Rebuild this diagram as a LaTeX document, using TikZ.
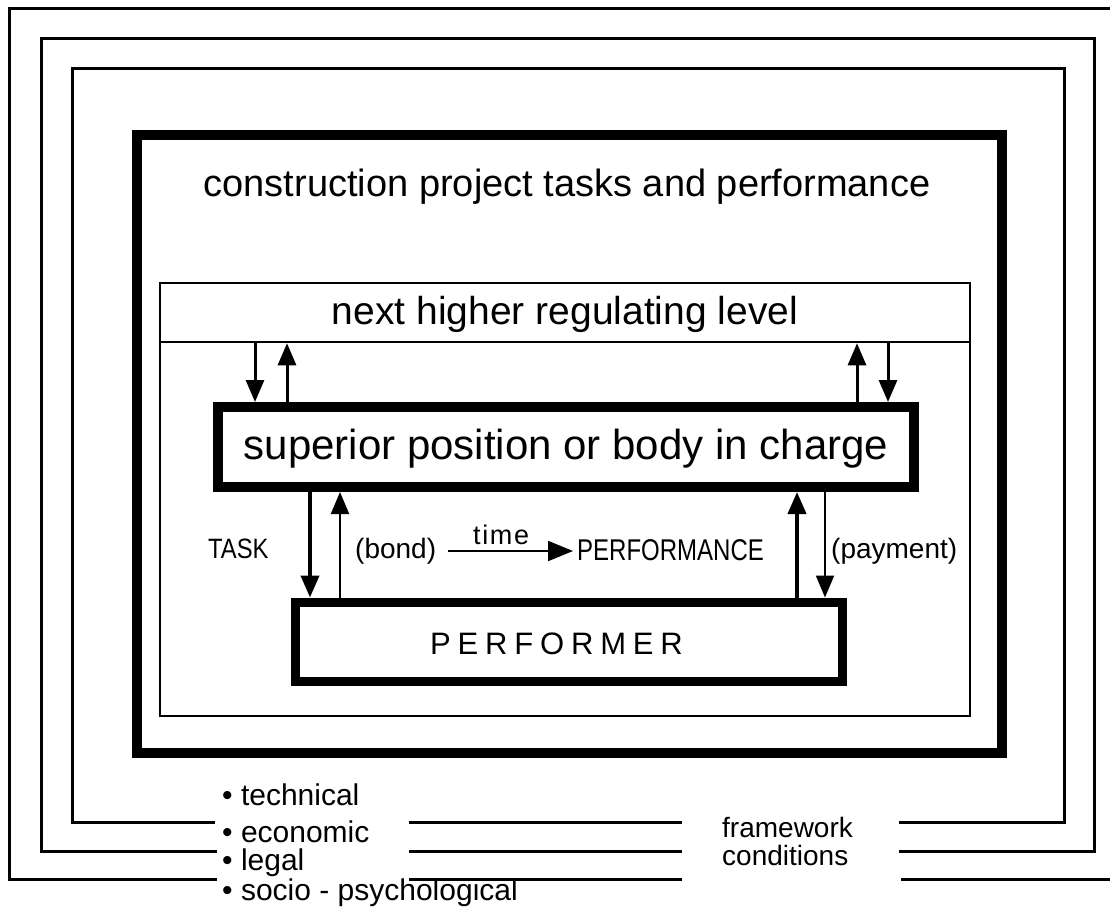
\documentclass[tikz,border=0pt]{standalone}
\usepackage{fontspec}
\setmainfont{Liberation Sans}
\usetikzlibrary{arrows.meta}
\begin{document}
\begin{tikzpicture}[x=1pt,y=-1pt,
  frameline/.style={line width=3pt, line cap=rect},
  thinbox/.style={draw, line width=2.5pt, inner sep=0pt},
  thickbox/.style={draw, line width=10pt, inner sep=0pt},
  txt/.style={inner sep=0pt, anchor=base west},
  mid/.style={font=\fontsize{28}{32}\selectfont},
  low/.style={font=\fontsize{30}{32}\selectfont},
  arr/.style={-{Triangle[length=22pt,width=18pt]}},
  thickarr/.style={arr, line width=4pt},
  thinarr/.style={arr, line width=2pt},
  toparr/.style={arr, line width=3pt}]
\useasboundingbox (0,0) rectangle (1110,911);
% outer framework frames
\coordinate (f1a) at (215,879);
\coordinate (f1b) at (9,879);
\coordinate (f1c) at (9,8);
\coordinate (f1d) at (1110,8);
\draw[frameline] (f1a) -- (f1b) -- (f1c) -- (f1d);
\coordinate (f2a) at (215,851);
\coordinate (f2b) at (41,851);
\coordinate (f2c) at (41,38);
\coordinate (f2d) at (1094,38);
\coordinate (f2e) at (1094,851);
\coordinate (f2f) at (900,851);
\draw[frameline] (f2a) -- (f2b) -- (f2c) -- (f2d) -- (f2e) -- (f2f);
\coordinate (f3a) at (213,822);
\coordinate (f3b) at (72,822);
\coordinate (f3c) at (72,68);
\coordinate (f3d) at (1064,68);
\coordinate (f3e) at (1064,822);
\coordinate (f3f) at (900,822);
\draw[frameline] (f3a) -- (f3b) -- (f3c) -- (f3d) -- (f3e) -- (f3f);
% middle and right segments
\coordinate (m1a) at (410,822); \coordinate (m1b) at (680,822);
\coordinate (m2a) at (410,851); \coordinate (m2b) at (680,851);
\coordinate (m3a) at (410,879); \coordinate (m3b) at (680,879);
\coordinate (r3a) at (902,879); \coordinate (r3b) at (1110,879);
\draw[frameline] (m1a) -- (m1b);
\draw[frameline] (m2a) -- (m2b);
\draw[frameline] (m3a) -- (m3b);
\draw[frameline] (r3a) -- (r3b);
% thick project frame
\node[thickbox, minimum width=865pt, minimum height=618pt] (proj) at (569.5,444) {};
\node[inner sep=0pt, anchor=base, font=\fontsize{38}{42}\selectfont] (projtxt) at (567,196) {construction project tasks and performance};
% regulating frame
\node[thinbox, minimum width=810pt, minimum height=433pt] (reg) at (565,499.5) {};
\node[thinbox, minimum width=810pt, minimum height=59pt] (nh) at (565,312.5) {};
\node[inner sep=0pt, anchor=base, font=\fontsize{39}{42}\selectfont] (nhtxt) at (565,324) {next higher regulating level};
% superior
\node[thickbox, minimum width=696pt, minimum height=80pt] (sup) at (566,447) {};
\node[inner sep=0pt, anchor=base, font=\fontsize{42}{46}\selectfont] (suptxt) at (566,459) {superior position or body in charge};
% performer
\node[thickbox, line width=9pt, minimum width=547pt, minimum height=79pt] (perf) at (568.5,641.5) {};
\node[txt, font=\fontsize{31}{34}\selectfont\addfontfeature{LetterSpace=22}] (perftxt) at (430,654) {PERFORMER};
% top arrows
\draw[toparr] (nh.south -| 255,0) -- (sup.north -| 255,0);
\draw[toparr] (sup.north -| 287,0) -- (nh.south -| 287,0);
\draw[toparr] (sup.north -| 857,0) -- (nh.south -| 857,0);
\draw[toparr] (nh.south -| 888,0) -- (sup.north -| 888,0);
% lower arrows
\draw[thickarr] (sup.south -| 310,0) -- (perf.north -| 310,0);
\draw[thinarr] (perf.north -| 340,0) -- (sup.south -| 340,0);
\draw[thickarr] (perf.north -| 797,0) -- (sup.south -| 797,0);
\draw[thinarr] (sup.south -| 825,0) -- (perf.north -| 825,0);
% labels
\node[txt, mid] (task) at (208,558) {\scalebox{0.85}[1]{TASK}};
\node[txt, mid] (bond) at (355,558) {(bond)};
\node[txt, font=\fontsize{27}{30}\selectfont\addfontfeature{LetterSpace=6}] (time) at (473,544) {time};
\node[txt, font=\fontsize{30}{32}\selectfont] (perfm) at (577,560) {\scalebox{0.8}[1]{PERFORMANCE}};
\node[txt, mid] (pay) at (831,558) {(payment)};
\draw[line width=2pt, -{Triangle[length=25pt,width=20pt]}, shorten <=12pt, shorten >=4pt]
  (bond.east |- 0,551) -- (perfm.west |- 0,551);
% bottom labels
\node[txt, low] (tech) at (222,805) {• technical};
\node[txt, low] (econ) at (222,842) {• economic};
\node[txt, low] (legal) at (222,870) {• legal};
\node[txt, low] (socio) at (222,900) {• socio - psychological};
\node[txt, mid] (fw) at (722,837) {framework};
\node[txt, mid] (cond) at (722,865) {conditions};
\end{tikzpicture}
\end{document}
